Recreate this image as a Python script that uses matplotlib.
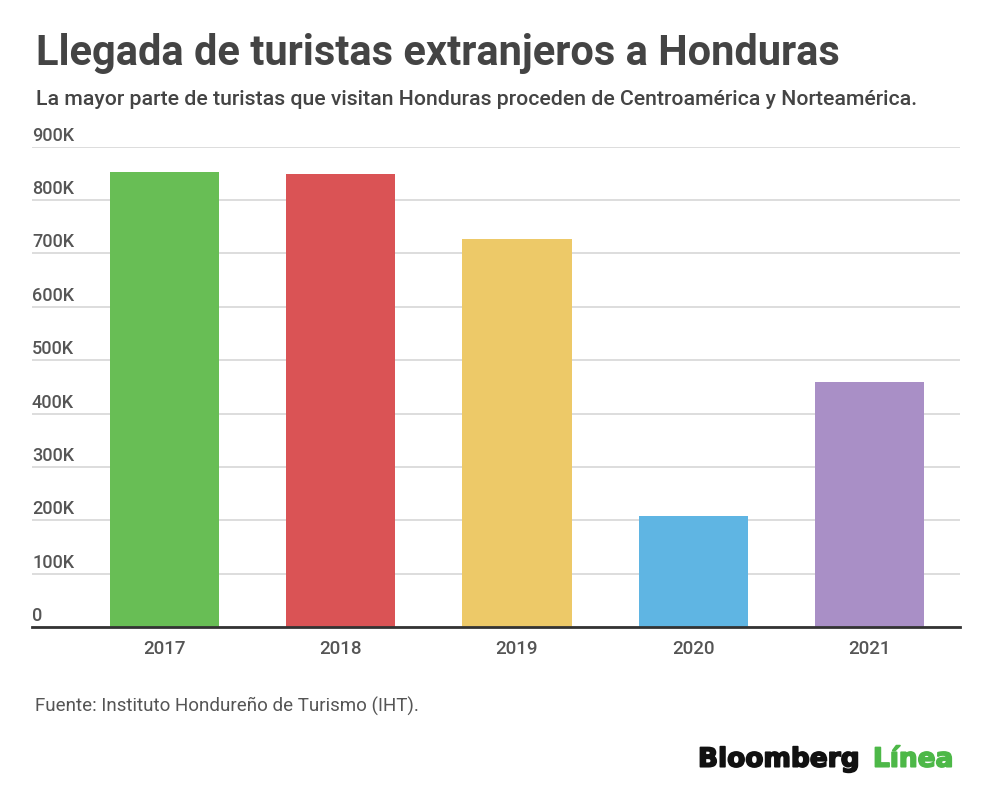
import matplotlib
matplotlib.use("Agg")
import matplotlib.pyplot as plt
import matplotlib.patheffects as pe
from matplotlib.transforms import ScaledTranslation

years = ["2017", "2018", "2019", "2020", "2021"]
arrivals = [852000, 848000, 727000, 208000, 460000]
bar_colors = ["#68BE55", "#DA5355", "#EDC968", "#5FB5E3", "#A98FC6"]
y_ticks = [0, 100000, 200000, 300000, 400000, 500000, 600000, 700000, 800000, 900000]
y_labels = ["0", "100K", "200K", "300K", "400K", "500K", "600K", "700K", "800K", "900K"]

title = "Llegada de turistas extranjeros a Honduras"
subtitle = "La mayor parte de turistas que visitan Honduras proceden de Centroamérica y Norteamérica."
source = "Fuente: Instituto Hondureño de Turismo (IHT)."

plt.rcParams["font.family"] = ["Roboto", "DejaVu Sans"]

W, H = 1000, 802
fig = plt.figure(figsize=(10, 8.02), dpi=100)
fig.patch.set_facecolor("white")
ax = fig.add_axes([0.032, 0.2182, 0.928, 0.5989])

x = list(range(len(years)))
ax.bar(x, arrivals, width=0.62, color=bar_colors, zorder=3)
ax.set_xlim(-0.753, 4.514)
ax.set_ylim(0, 900000)

ax.set_yticks(y_ticks, y_labels)
ax.yaxis.grid(True, color="#DDDDDD", linewidth=1.4, zorder=0)
ax.set_axisbelow(True)
ax.tick_params(axis="y", length=0, pad=0, labelsize=13, labelcolor="#555555")
off = ScaledTranslation(0, 6 / 100, fig.dpi_scale_trans)
for lbl in ax.get_yticklabels():
    lbl.set_horizontalalignment("left")
    lbl.set_verticalalignment("baseline")
    lbl.set_transform(lbl.get_transform() + off)
    lbl.set_fontweight("medium")

ax.set_xticks(x, years)
ax.tick_params(axis="x", length=0, pad=9, labelsize=13.5, labelcolor="#555555")
for lbl in ax.get_xticklabels():
    lbl.set_fontweight("medium")

for s in ["left", "right", "top"]:
    ax.spines[s].set_visible(False)
ax.spines["bottom"].set_color("#333333")
ax.spines["bottom"].set_linewidth(2)
ax.spines["bottom"].set_zorder(4)

fig.text(36 / W, 1 - 65 / H, title, fontsize=30, fontweight="bold", color="#444444",
         ha="left", va="baseline")
fig.text(36 / W, 1 - 105 / H, subtitle, fontsize=15.3, fontweight="medium", color="#444444",
         ha="left", va="baseline")
fig.text(35 / W, 1 - 711.7 / H, source, fontsize=13.5, color="#555555", ha="left", va="baseline")

fig.text(698 / W, 1 - 766.7 / H, "Bloomberg", fontsize=19, fontweight="bold", color="#111111",
         family="DejaVu Sans", ha="left", va="baseline",
         path_effects=[pe.withStroke(linewidth=1.2, foreground="#111111")])
fig.text(873 / W, 1 - 766.7 / H, "Línea", fontsize=19, fontweight="bold", color="#4DB848",
         family="DejaVu Sans", ha="left", va="baseline",
         path_effects=[pe.withStroke(linewidth=1.2, foreground="#4DB848")])

fig.savefig("out.png", dpi=100, facecolor="white")
